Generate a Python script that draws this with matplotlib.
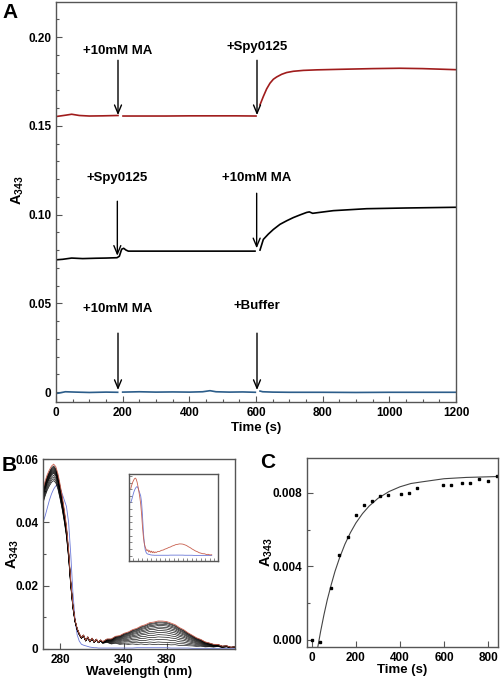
import numpy as np
import matplotlib
matplotlib.use("Agg")
import matplotlib.pyplot as plt
from matplotlib.ticker import MultipleLocator, FixedLocator

plt.rcParams["font.family"] = ["Liberation Sans", "DejaVu Sans"]
plt.rcParams["font.weight"] = "bold"
plt.rcParams["mathtext.fontset"] = "custom"
plt.rcParams["mathtext.bf"] = "Liberation Sans:bold"
plt.rcParams["mathtext.rm"] = "Liberation Sans:bold"

nan = np.nan

# %% panel A traces (time in s, A343)
red_t = [0, 15, 30, 47, 70, 100, 140, 186, 193, 201, 260, 330, 400, 470, 540, 600, 606,
         612, 622, 632, 642, 652, 662, 677, 692, 712, 742, 782, 850, 950, 1032, 1100, 1150, 1200]
red_a = [0.1552, 0.1556, 0.1560, 0.1565, 0.1558, 0.1555, 0.1556, 0.1558, nan, 0.1555, 0.1555,
         0.1555, 0.1556, 0.1556, 0.1556, 0.1555, nan, 0.1618, 0.1665, 0.1708, 0.1740, 0.1762,
         0.1775, 0.1790, 0.1800, 0.1807, 0.1812, 0.1815, 0.1818, 0.1822, 0.1824, 0.1822, 0.1819, 0.1816]

black_t = [0, 20, 47, 80, 120, 150, 183, 190, 197, 203, 210, 217, 300, 400, 500, 597, 605,
           612, 617, 622, 637, 652, 672, 692, 712, 732, 752, 760, 770, 790, 832, 932, 1050, 1200]
black_a = [0.0745, 0.0748, 0.0755, 0.0752, 0.0754, 0.0755, 0.0757, 0.0765, 0.0805, 0.0810, 0.0800,
           0.0794, 0.0794, 0.0794, 0.0794, 0.0794, nan, 0.0800, 0.0830, 0.0860, 0.0890, 0.0916,
           0.0945, 0.0965, 0.0983, 0.0998, 0.1012, 0.1015, 0.1007, 0.1012, 0.1022, 0.1033, 0.1037, 0.1041]

blue_t = [0, 10, 28, 60, 100, 150, 185, 192, 200, 250, 300, 350, 400, 440, 462, 480, 520, 560,
          598, 604, 612, 620, 650, 700, 800, 900, 1000, 1100, 1200]
blue_a = [-0.0008, -0.0005, 0.0002, 0.0, -0.0002, 0.0, -0.0001, nan, 0.0, 0.0002, 0.0, 0.0001,
          0.0, 0.0002, 0.0008, 0.0002, 0.0, 0.0001, -0.0001, nan, 0.0006, 0.0002, 0.0, -0.0001,
          -0.0001, -0.0002, -0.0001, -0.0001, -0.0001]

# annotations: (label, time, text A, arrow tail A, arrow tip A)
notes = [
    ("+10mM MA", 186, 0.1924, 0.1869, 0.1560),
    ("+Spy0125", 603, 0.1941, 0.1869, 0.1560),
    ("+Spy0125", 184, 0.1204, 0.1075, 0.0768),
    ("+10mM MA", 602, 0.1204, 0.1120, 0.0810),
    ("+10mM MA", 186, 0.0467, 0.0332, 0.0012),
    ("+Buffer", 603, 0.0483, 0.0332, 0.0012),
]

# %% panel B spectra
wl = [264, 266, 268, 270, 272, 274, 276, 278, 280, 282, 284, 286, 288, 290, 292, 294, 296, 298,
      300, 302, 304, 306, 308, 310, 312, 314, 316, 318, 320, 324, 328, 332, 336, 340, 344, 348,
      352, 356, 360, 364, 368, 372, 376, 380, 384, 388, 392, 396, 400, 404, 408, 412, 416, 420,
      424, 428, 432, 436, 440, 444]
uv_base = [0.0500, 0.0525, 0.0545, 0.0560, 0.0572, 0.0578, 0.0570, 0.0548, 0.0515, 0.0478,
           0.0435, 0.0385, 0.0310, 0.0215, 0.0140, 0.0092, 0.0065, 0.0048, 0.0036, 0.0044,
           0.0027, 0.0038, 0.0024, 0.0034, 0.0022, 0.0031, 0.0021, 0.0027, 0.0019, 0.0022,
           0.0016, 0.0018, 0.0014, 0.0015, 0.0013, 0.0014, 0.0012, 0.0013, 0.0011, 0.0012,
           0.0010, 0.0011, 0.0010, 0.0010, 0.0009, 0.0010, 0.0008, 0.0009, 0.0008, 0.0008,
           0.0007, 0.0008, 0.0006, 0.0007, 0.0006, 0.0008, 0.0005, 0.0007, 0.0004, 0.0006]
band = [0, 0, 0, 0, 0, 0, 0, 0, 0, 0, 0, 0, 0, 0, 0, 0, 0, 0, 0, 0, 0, 0, 0, 0, 0, 0, 0,
        0.02, 0.05, 0.12, 0.20, 0.28, 0.36, 0.44, 0.52, 0.60, 0.68, 0.76, 0.84, 0.91, 0.96,
        0.99, 1.00, 0.98, 0.93, 0.85, 0.76, 0.66, 0.55, 0.45, 0.36, 0.28, 0.21, 0.15, 0.11,
        0.08, 0.05, 0.04, 0.02, 0.01]
blue_spec = [0.0400, 0.0420, 0.0445, 0.0470, 0.0490, 0.0505, 0.0515, 0.0520, 0.0510, 0.0490,
             0.0470, 0.0450, 0.0400, 0.0300, 0.0180, 0.0095, 0.0045, 0.0025, 0.0015, 0.0012,
             0.0010, 0.0008, 0.0006, 0.0005, 0.0004, 0.0004, 0.0003, 0.0003, 0.0003, 0.0003,
             0.0003, 0.0003, 0.0003, 0.0003, 0.0003, 0.0003, 0.0004, 0.0004, 0.0004, 0.0004,
             0.0004, 0.0004, 0.0004, 0.0004, 0.0003, 0.0003, 0.0003, 0.0003, 0.0003, 0.0002,
             0.0002, 0.0002, 0.0002, 0.0002, 0.0002, 0.0002, 0.0002, 0.0002, 0.0002, 0.0002]
uv_scale = [0.92, 0.93, 0.94, 0.95, 0.96, 0.965, 0.97, 0.975, 0.98, 0.985, 0.99, 0.995, 1.0]
band_amp = [0.0005, 0.0012, 0.0020, 0.0028, 0.0035, 0.0042, 0.0048, 0.0054, 0.0059, 0.0064,
            0.0068, 0.0072, 0.0075]
red_scale = 1.01
red_amp = 0.0078

# %% panel C kinetics
kin_t = [0, 36, 88, 124, 162, 200, 238, 274, 311, 347, 405, 442, 479, 594, 632, 683, 720, 761, 800, 839]
kin_a = [0.0000, -0.00015, 0.0028, 0.00462, 0.00559, 0.00679, 0.00733, 0.00755, 0.00782, 0.00787,
         0.00793, 0.0080, 0.00826, 0.00842, 0.00842, 0.00853, 0.00853, 0.00875, 0.00866, 0.00893]
fit_t = [27, 40, 55, 70, 88, 105, 125, 150, 175, 200, 230, 260, 300, 350, 400, 450, 500, 600, 700, 845]
fit_a = [-0.0004, 0.00046, 0.00136, 0.00217, 0.0030, 0.00372, 0.00443, 0.0052, 0.00583, 0.00636,
         0.00687, 0.00728, 0.0077, 0.00807, 0.00833, 0.00851, 0.0086, 0.00877, 0.00884, 0.00889]

SPINE = "#555555"
RED = "#a01c1c"
BLUE = "#2c5d8a"


def style(ax, size=8.5):
    for s in ax.spines.values():
        s.set_color(SPINE)
        s.set_linewidth(1.0)
    ax.tick_params(which="both", direction="in", top=False, right=False,
                   color=SPINE, labelsize=size, width=0.8)
    ax.tick_params(which="major", length=4)
    ax.tick_params(which="minor", length=2.5)
    for lab in ax.get_xticklabels() + ax.get_yticklabels():
        lab.set_fontweight("bold")


fig = plt.figure(figsize=(5, 6.78), dpi=100)

# %% A
axA = fig.add_axes([0.112, 0.407, 0.800, 0.590])
axA.plot(red_t, red_a, color=RED, lw=1.2)
axA.plot(black_t, black_a, color="black", lw=1.2)
axA.plot(blue_t, blue_a, color=BLUE, lw=1.2)
for label, t, ty, tail, tip in notes:
    axA.text(t, ty, label, ha="center", va="center", fontsize=9.5, fontweight="bold")
    axA.annotate("", xy=(t, tip), xytext=(t, tail),
                 arrowprops=dict(arrowstyle="->,head_length=0.6,head_width=0.25",
                                 lw=1.0, color="black", shrinkA=0, shrinkB=0))
axA.set_xlim(0, 1200)
axA.set_ylim(-0.0056, 0.2197)
axA.xaxis.set_major_locator(MultipleLocator(200))
axA.xaxis.set_minor_locator(MultipleLocator(50))
axA.yaxis.set_major_locator(FixedLocator([0, 0.05, 0.10, 0.15, 0.20]))
axA.yaxis.set_minor_locator(MultipleLocator(0.01))
axA.set_yticklabels(["0", "0.05", "0.10", "0.15", "0.20"])
axA.set_xlabel("Time (s)", fontsize=9.5, fontweight="bold", labelpad=2)
axA.set_ylabel(r"$\mathbf{A_{343}}$", fontsize=10.5)
axA.yaxis.set_label_coords(-0.075, 0.53)
style(axA)
fig.text(0.02, 0.982, "A", fontsize=15, fontweight="bold", ha="center", va="center")

# %% B
axB = fig.add_axes([0.086, 0.0428, 0.384, 0.2802])
uv = np.array(uv_base)
bd = np.array(band)
axB.plot(wl, blue_spec, color="#6a78d8", lw=0.6)
for sc, amp in zip(uv_scale, band_amp):
    axB.plot(wl, uv * sc + amp * bd, color="black", lw=0.45)
axB.plot(wl, uv * red_scale + red_amp * bd, color="#c8604f", lw=0.6)
axB.set_xlim(264, 444)
axB.set_ylim(0, 0.06)
axB.xaxis.set_major_locator(FixedLocator([280, 340, 380]))
axB.yaxis.set_major_locator(FixedLocator([0, 0.02, 0.04, 0.06]))
axB.yaxis.set_minor_locator(MultipleLocator(0.01))
axB.set_yticklabels(["0", "0.02", "0.04", "0.06"])
axB.set_xlabel("Wavelength (nm)", fontsize=9.5, fontweight="bold", labelpad=0)
axB.set_ylabel(r"$\mathbf{A_{343}}$", fontsize=10.5)
axB.yaxis.set_label_coords(-0.115, 0.5)
style(axB)
fig.text(0.018, 0.314, "B", fontsize=15, fontweight="bold", ha="center", va="center")

# inset: first and last spectra
axI = fig.add_axes([0.258, 0.1726, 0.178, 0.1284])
axI.plot(wl, blue_spec, color="#6a78d8", lw=0.6)
axI.plot(wl, uv * red_scale + red_amp * bd, color="#c8604f", lw=0.6)
axI.set_xlim(260, 458)
axI.set_ylim(-0.004, 0.0615)
axI.xaxis.set_major_locator(MultipleLocator(10))
axI.yaxis.set_major_locator(MultipleLocator(0.005))
axI.set_xticklabels([])
axI.set_yticklabels([])
style(axI)
axI.tick_params(which="major", length=2, width=0.5)

# %% C
axC = fig.add_axes([0.614, 0.0457, 0.382, 0.2788])
axC.plot(fit_t, fit_a, color="#444444", lw=0.8)
axC.plot(kin_t, kin_a, "s", color="black", ms=1.7)
axC.set_xlim(-22, 845)
axC.set_ylim(-0.0004, 0.0099)
axC.xaxis.set_major_locator(MultipleLocator(200))
axC.yaxis.set_major_locator(FixedLocator([0, 0.004, 0.008]))
axC.yaxis.set_minor_locator(MultipleLocator(0.002))
axC.set_yticklabels(["0.000", "0.004", "0.008"])
axC.set_xlabel("Time (s)", fontsize=9.5, fontweight="bold", labelpad=0)
axC.set_ylabel(r"$\mathbf{A_{343}}$", fontsize=10.5)
axC.yaxis.set_label_coords(-0.17, 0.5)
style(axC)
fig.text(0.536, 0.318, "C", fontsize=15, fontweight="bold", ha="center", va="center")

fig.savefig("out.png", dpi=100)
